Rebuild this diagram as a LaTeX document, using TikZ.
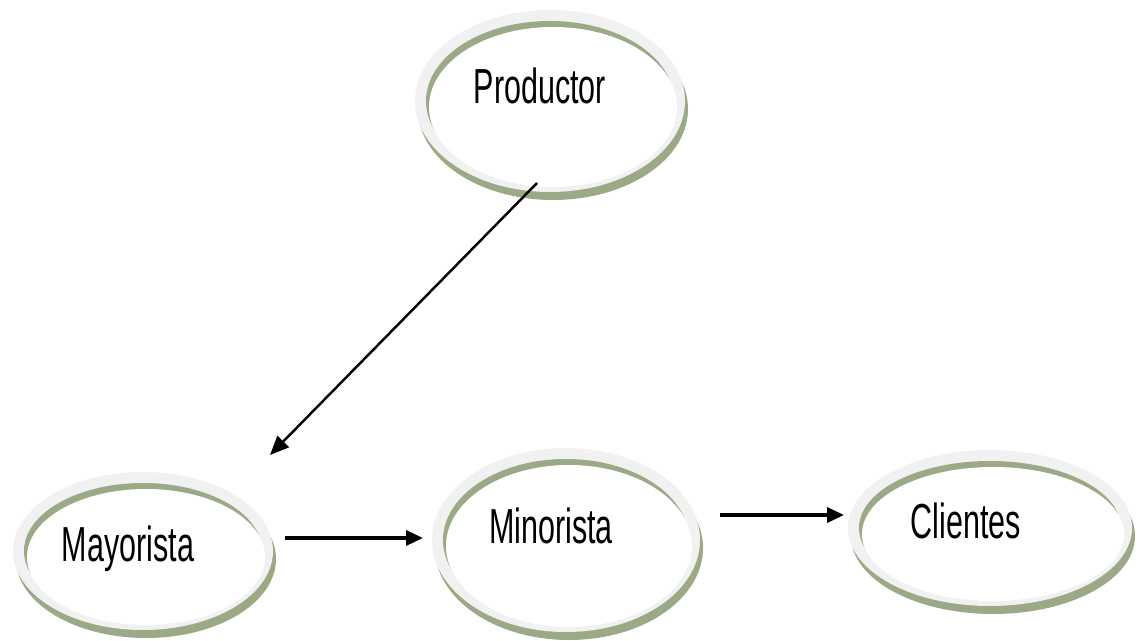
\documentclass[tikz,border=0pt]{standalone}
\usepackage{graphicx}
\usepackage{fontspec}
\setmainfont{Liberation Sans}
\usetikzlibrary{arrows.meta}
\definecolor{ringgray}{RGB}{241,241,241}
\definecolor{ringgreen}{RGB}{155,169,135}
\newcommand{\narrow}[1]{\scalebox{0.62}[1]{#1}}
\tikzset{
  lbl/.style={anchor=base, inner sep=0pt, font=\fontsize{28pt}{34pt}\selectfont},
  arr/.style={-{Triangle[length=0.34cm,width=0.3cm]}, line width=2pt},
  darr/.style={-{Triangle[length=0.38cm,width=0.32cm]}, line width=1.4pt}
}
\begin{document}
\begin{tikzpicture}[x=0.02cm,y=-0.02cm]
				%defs
				\def\thick{11}
				\useasboundingbox (0,0) rectangle (1145,641);
				\coordinate (prod) at (550,101);
				\coordinate (mayo) at (143,551);
				\coordinate (mino) at (566,540);
				\coordinate (cli) at (990,528);
				%rings
				\foreach \c/\rx/\ry in {prod/135/91, mayo/130/79, mino/134/92, cli/142/78}{
					\pgfmathsetmacro{\irx}{\rx-\thick}
					\pgfmathsetmacro{\iry}{\ry-\thick}
					\fill[ringgreen] ([shift={(3,8)}]\c) ellipse [x radius=\rx, y radius=\ry];
					\fill[ringgray] (\c) ellipse [x radius=\rx, y radius=\ry];
					\fill[ringgreen] (\c) ellipse [x radius=\irx, y radius=\iry];
					\fill[white] ([shift={(3,6)}]\c) ellipse [x radius=\irx, y radius=\iry];
				}
				%Labels
				\node[lbl] (prodtxt) at (540,104) {\narrow{Productor}};
				\node[lbl] (mayotxt) at (128,561) {\narrow{Mayorista}};
				\node[lbl] (minotxt) at (551,543) {\narrow{Minorista}};
				\node[lbl] (clitxt) at (966,538) {\narrow{Clientes}};
				%ends
				\coordinate (p1) at (537,183);
				\coordinate (m1) at (270,455);
				\coordinate (m2) at (285,538);
				\coordinate (n1) at (423,538);
				\coordinate (n2) at (720,515);
				\coordinate (c1) at (844,515);
				%lines
				\draw[darr] (p1) -- (m1);
				\draw[arr] (m2) -- (n1);
				\draw[arr] (n2) -- (c1);
\end{tikzpicture}
\end{document}
